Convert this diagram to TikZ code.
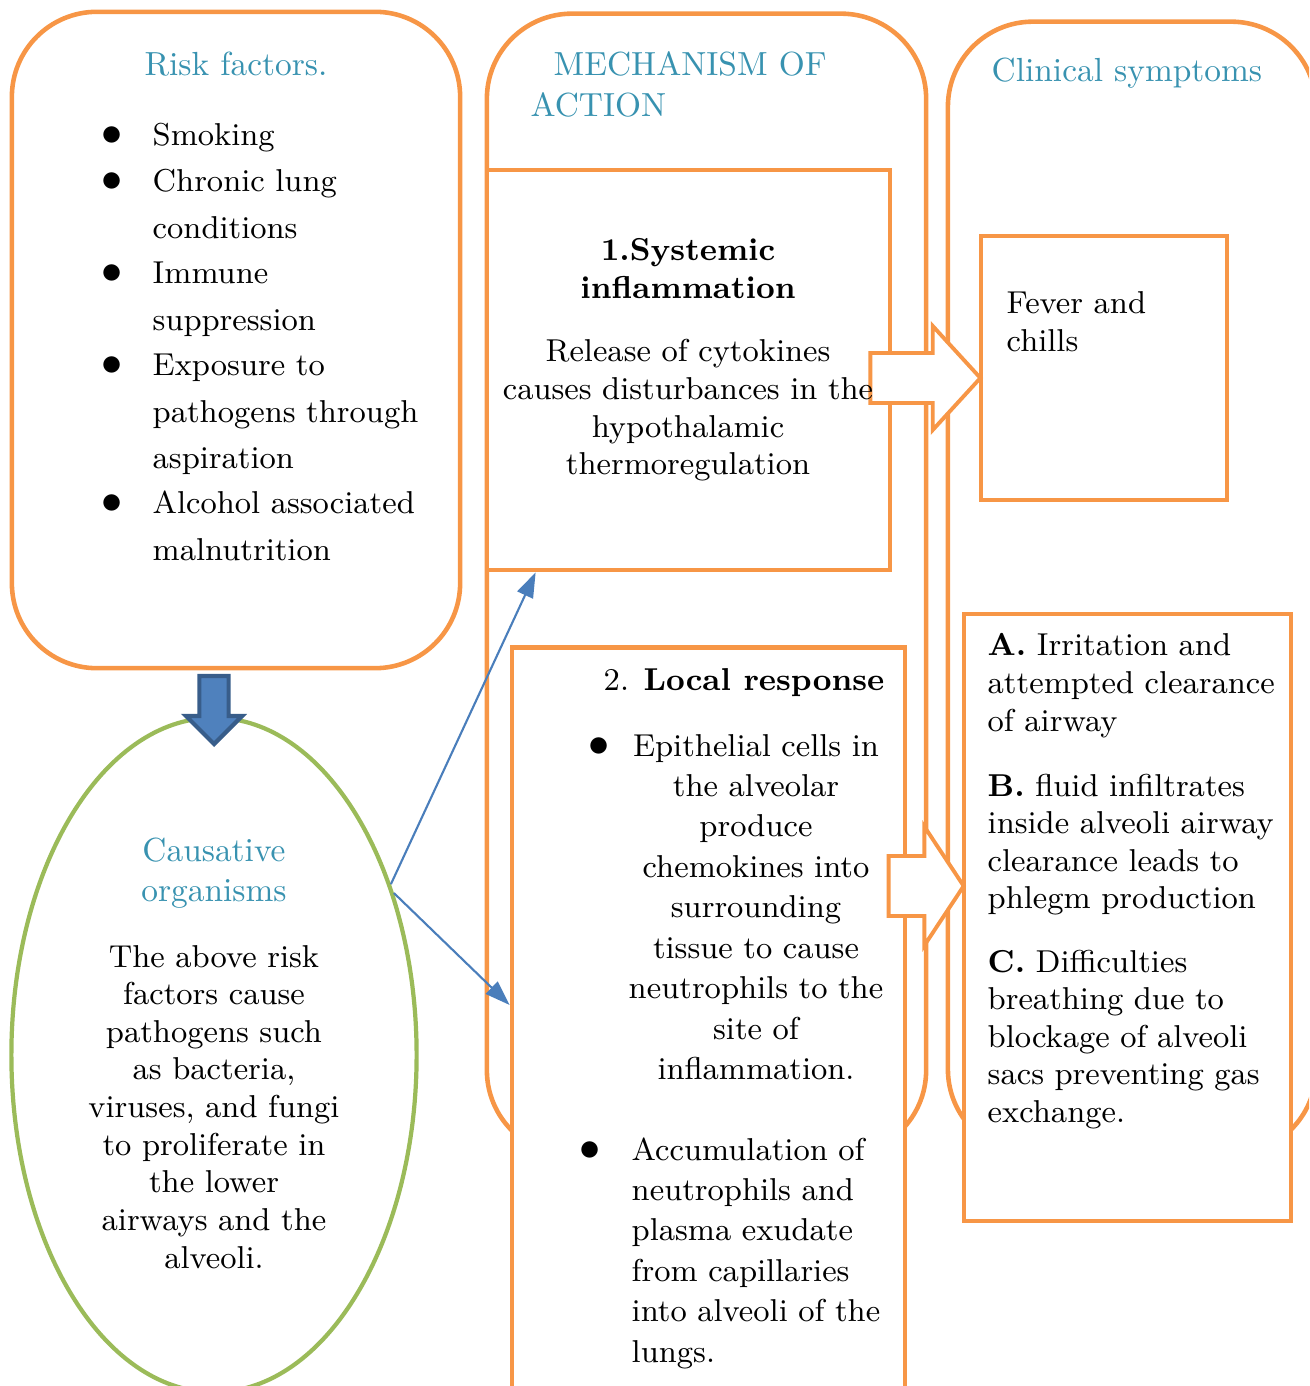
\documentclass[tikz,border=0pt]{standalone}
\usetikzlibrary{arrows.meta,shapes.arrows,shapes.geometric,positioning}

\definecolor{boxorange}{RGB}{247,150,70}
\definecolor{headteal}{RGB}{56,146,176}
\definecolor{ovalgreen}{RGB}{155,187,89}
\definecolor{linkblue}{RGB}{74,126,187}
\definecolor{downfill}{RGB}{79,129,189}
\definecolor{downedge}{RGB}{56,93,138}

\tikzset{
  panel/.style={draw=boxorange, line width=1.3pt, rounded corners=0.85cm, inner sep=0pt},
  stagebox/.style={draw=boxorange, line width=1.3pt, fill=white, inner sep=0pt},
  heading/.style={text=headteal, inner sep=0pt, font=\fontsize{9.5}{11.4}\selectfont},
  txt/.style={inner sep=0pt, font=\fontsize{9}{10.7}\selectfont},
  widetxt/.style={inner sep=0pt, font=\fontsize{9}{11.5}\selectfont},
  risktxt/.style={inner sep=0pt, font=\fontsize{9}{13.1}\selectfont},
  dot/.style={inner sep=0pt, font=\fontsize{12}{12}\selectfont},
  flowarrow/.style={single arrow, draw=boxorange, fill=white, line width=1.1pt, inner xsep=0pt},
  link/.style={draw=linkblue, line width=0.6pt, -{Triangle[length=0.25cm,width=0.17cm]}},
}

\begin{document}
\begin{tikzpicture}[x=0.01cm, y=-0.01cm]
\clip (0,0) rectangle (1309,1386);

% three columns
\node[panel, minimum width=4.48cm, minimum height=6.56cm] (riskpanel) at (236,340) {};
\node[panel, minimum width=4.39cm, minimum height=11.41cm] (mechpanel) at (706.5,584.5) {};
\node[panel, minimum width=3.68cm, minimum height=11.32cm] (clinpanel) at (1132,588) {};

% inner boxes
\node[stagebox, minimum width=4.03cm, minimum height=4cm] (sysbox) at (688.5,370) {};
\node[stagebox, minimum width=3.93cm, minimum height=7.72cm] (localbox) at (708.5,1034) {};
\node[stagebox, minimum width=2.46cm, minimum height=2.64cm] (feverbox) at (1104,368) {};
\node[stagebox, minimum width=3.27cm, minimum height=6.07cm] (abcbox) at (1127.5,917.5) {};

\node[ellipse, draw=ovalgreen, line width=1.2pt, minimum width=4.05cm, minimum height=6.74cm, inner sep=0pt] (oval) at (214,1055) {};

% block arrows
\node[flowarrow, inner ysep=0.23cm, minimum height=1.1cm, single arrow head extend=0.27cm,
      single arrow tip angle=95, anchor=tip] (arrowA) at (983,378) {};
\node[flowarrow, inner ysep=0.28cm, minimum height=0.75cm, single arrow head extend=0.295cm,
      single arrow tip angle=113, anchor=tip] (arrowB) at (966,886) {};
\node[single arrow, rotate=-90, fill=downfill, draw=downedge, line width=1.2pt, inner xsep=0pt,
      inner ysep=0.125cm, minimum height=0.68cm, single arrow head extend=0.135cm,
      single arrow tip angle=90, anchor=tip] (downarrow) at (214,747) {};

% links from the oval
\draw[link] (oval.44) -- ([xshift=0.51cm]sysbox.south west);
\draw[link] (oval.42) -- ([yshift=0.29cm]localbox.west);

% titles
\node[heading, anchor=base] (risktitle) at (236,76) {Risk factors.};
\node[heading, anchor=base west] (mechtitleA) at (553,76) {MECHANISM OF};
\node[heading, anchor=base west] (mechtitleB) at (530,117) {ACTION};
\node[heading, anchor=base west] (clintitle) at (991,82) {Clinical symptoms};
\node[heading, text width=3cm, align=center, anchor=base] (ovaltitle) at (214,861) {Causative\\organisms};

% risk factors
\foreach \y/\entry [count=\i] in {146/Smoking, 192/{Chronic lung\\conditions}, 284/{Immune\\suppression},
    376/{Exposure to\\pathogens through\\aspiration}, 514/{Alcohol associated\\malnutrition}}{
  \node[dot, anchor=base] (riskdot\i) at (112,\y) {$\bullet$};
  \node[risktxt, text width=3cm, align=left, anchor=base west] (risk\i) at (152,\y) {\entry};
}

% causative organisms
\node[txt, text width=3.6cm, align=center, anchor=base] (ovaltext) at (214,967)
  {The above risk\\factors cause\\pathogens such\\as bacteria,\\viruses, and fungi\\to proliferate in\\the lower\\airways and the\\alveoli.};

% systemic inflammation
\node[txt, text width=3.8cm, align=center, anchor=base] (systitle) at (688,261)
  {\bfseries 1.Systemic\\inflammation};
\node[txt, text width=3.8cm, align=center, anchor=base] (systext) at (688,362)
  {Release of cytokines\\causes disturbances in the\\hypothalamic\\thermoregulation};

% local response
\node[txt, anchor=base] (localtitle) at (744,690) {2. \textbf{Local response}};
\node[dot, anchor=base] (localdot1) at (599,756) {$\bullet$};
\node[widetxt, text width=3cm, align=center, anchor=base] (local1) at (756,756)
  {Epithelial cells in\\the alveolar\\produce\\chemokines into\\surrounding\\tissue to cause\\neutrophils to the\\site of\\inflammation.};
\node[dot, anchor=base] (localdot2) at (590,1160) {$\bullet$};
\node[widetxt, text width=3cm, align=left, anchor=base west] (local2) at (631,1160)
  {Accumulation of\\neutrophils and\\plasma exudate\\from capillaries\\into alveoli of the\\lungs.};

% clinical symptoms
\node[txt, text width=2cm, align=left, anchor=base west] (fever) at (1006,314) {Fever and\\chills};
\node[txt, text width=3.2cm, align=left, anchor=base west] (symA) at (987,656)
  {\textbf{A.} Irritation and\\attempted clearance\\of airway};
\node[txt, text width=3.2cm, align=left, anchor=base west] (symB) at (987,796)
  {\textbf{B.} fluid infiltrates\\inside alveoli airway\\clearance leads to\\phlegm production};
\node[txt, text width=3.2cm, align=left, anchor=base west] (symC) at (987,972)
  {\textbf{C.} Difficulties\\breathing due to\\blockage of alveoli\\sacs preventing gas\\exchange.};
\end{tikzpicture}
\end{document}
